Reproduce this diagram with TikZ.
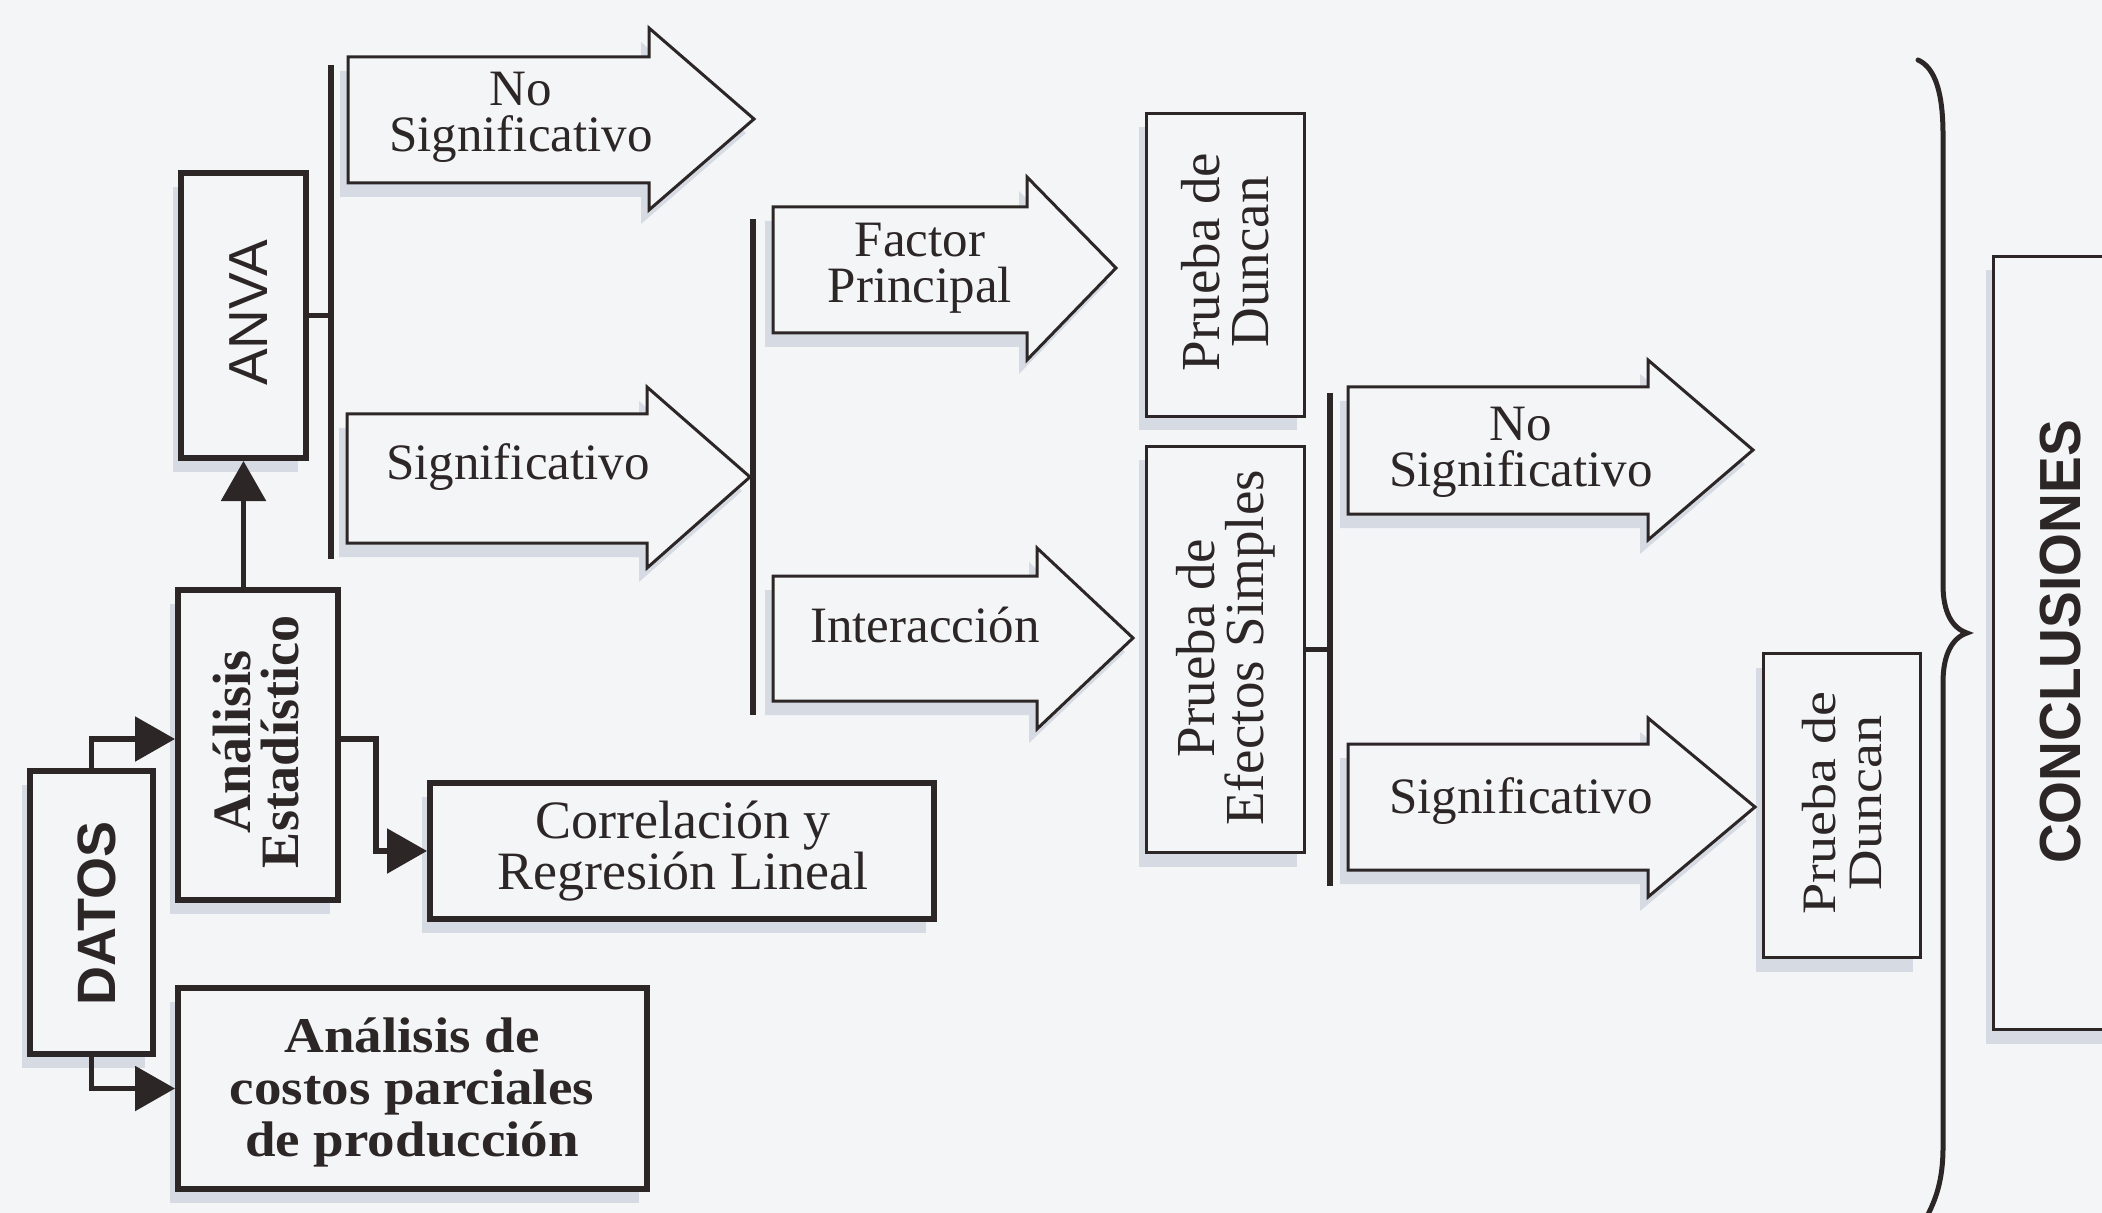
\documentclass[tikz,border=0pt]{standalone}
\usepackage{fontspec}
\setmainfont{Liberation Serif}
\setsansfont{Liberation Sans}
\newfontfamily\stretchserif[FakeStretch=1.17]{Liberation Serif}
\newfontfamily\costfont[FakeStretch=1.1]{Liberation Serif}
\newfontfamily\conclfont[FakeStretch=0.95]{Liberation Sans}
\usetikzlibrary{arrows.meta,shadows}
\definecolor{ink}{RGB}{45,38,38}
\definecolor{paper}{RGB}{243,245,247}
\definecolor{shade}{RGB}{214,219,227}
\tikzset{
  shd/.style={drop shadow={shadow xshift=-4pt,shadow yshift=-7pt,fill=shade,opacity=1}},
  thickbox/.style={rectangle,draw=ink,line width=3pt,fill=paper,shd,inner sep=0pt},
  thinbox/.style={rectangle,draw=ink,line width=1.5pt,fill=paper,shd,inner sep=0pt},
  blockarrow/.style={draw=ink,line width=1.5pt,fill=paper,shd,line join=miter},
  vbar/.style={draw=ink,line width=3.3pt},
  conn/.style={draw=ink,line width=2.8pt},
  headtip/.style={-{Triangle[length=20pt,width=22pt]}},
  arrtxt/.style={align=center,inner sep=0pt,text=ink,font=\fontsize{25.5}{23}\selectfont},
  vtxt/.style={rotate=90,align=center,inner sep=0pt,text=ink},
  htxt/.style={align=center,inner sep=0pt,text=ink}
}
\begin{document}
\begin{tikzpicture}[x=0.5pt,y=-0.5pt]
\useasboundingbox (0,0) rectangle (2102,1213);
\fill[paper] (0,0) rectangle (2102,1213);
\clip (0,0) rectangle (2102,1213);

% ---------- boxes ----------
\node[thickbox,minimum width=62.5pt,minimum height=142.5pt] (anva) at (243.5,315.5) {};
\node[vtxt,font=\sffamily\fontsize{27.5}{27}\selectfont] (anvat) at (249,313) {ANVA};

\node[thickbox,minimum width=80pt,minimum height=155pt] (ae) at (258,745) {};
\node[vtxt,font=\bfseries\fontsize{27}{24}\selectfont] (aet) at (256,742) {Análisis\\Estadístico};

\node[thickbox,minimum width=61.5pt,minimum height=141.5pt] (datos) at (91.5,912.5) {};
\node[vtxt,font=\sffamily\bfseries\fontsize{27}{27}\selectfont] (datost) at (97,913) {DATOS};

\node[thickbox,minimum width=252pt,minimum height=68pt] (cr) at (682,851) {};
\node[htxt,font=\fontsize{27}{24.25}\selectfont] (crt) at (683,851) {Correlación y\\Regresión Lineal};

\node[thickbox,minimum width=234.5pt,minimum height=100.5pt] (co) at (412.5,1088.5) {};
\node[htxt,font=\costfont\bfseries\fontsize{25}{26}\selectfont] (cot) at (412,1092) {Análisis de\\costos parciales\\de producción};

\node[thinbox,minimum width=79pt,minimum height=151.5pt] (dun1) at (1225.5,265) {};
\node[vtxt,font=\fontsize{27.5}{24.5}\selectfont] (dun1t) at (1225.5,262) {Prueba de\\Duncan};

\node[thinbox,minimum width=79pt,minimum height=203pt] (pes) at (1225.5,649.5) {};
\node[vtxt,font=\fontsize{27.5}{24.5}\selectfont] (pest) at (1225.5,648) {Prueba de\\Efectos Simples};

\node[thinbox,minimum width=78.5pt,minimum height=152pt] (dun2) at (1842,805.5) {};
\node[vtxt,font=\stretchserif\fontsize{24}{23}\selectfont] (dun2t) at (1842,803) {Prueba de\\Duncan};

\node[thinbox,minimum width=67.5pt,minimum height=386.5pt] (concl) at (2061,643) {};
\node[vtxt,font=\conclfont\bfseries\fontsize{29}{29}\selectfont] (conclt) at (2061,642) {CONCLUSIONES};

% ---------- block arrows ----------
\path[blockarrow] (348,57) -- (649,57) -- (649,28) -- (754,119) -- (649,210) -- (649,183) -- (348,183) -- cycle;
\node[arrtxt] (a1) at (521,117) {No\\Significativo};

\path[blockarrow] (347,414) -- (647,414) -- (647,387) -- (750,477) -- (647,568) -- (647,543) -- (347,543) -- cycle;
\node[arrtxt,anchor=base] (a2) at (518,480) {Significativo};

\path[blockarrow] (773,207) -- (1027,207) -- (1027,177) -- (1116,268) -- (1027,360) -- (1027,333) -- (773,333) -- cycle;
\node[arrtxt] (a3) at (920,268) {Factor\\Principal};

\path[blockarrow] (773,576) -- (1037,576) -- (1037,548) -- (1133,638) -- (1037,729) -- (1037,701) -- (773,701) -- cycle;
\node[arrtxt,anchor=base] (a4) at (925,642) {Interacción};

\path[blockarrow] (1348,387) -- (1648,387) -- (1648,360) -- (1753,450) -- (1648,540) -- (1648,514) -- (1348,514) -- cycle;
\node[arrtxt] (a5) at (1521,452) {No\\Significativo};

\path[blockarrow] (1348,744) -- (1648,744) -- (1648,718) -- (1755,807) -- (1648,897) -- (1648,870) -- (1348,870) -- cycle;
\node[arrtxt,anchor=base] (a6) at (1521,813) {Significativo};

% ---------- bars and connectors ----------
\coordinate (v1t) at (331,65);   \coordinate (v1b) at (331,559);
\coordinate (v2t) at (753,219);  \coordinate (v2b) at (753,715);
\coordinate (v3t) at (1330,393); \coordinate (v3b) at (1330,886);
\draw[vbar] (v1t) -- (v1b);
\draw[vbar] (v2t) -- (v2b);
\draw[vbar] (v3t) -- (v3b);
\draw[conn] (anva.east) -- (anva.east -| v1t);
\draw[conn] (pes.east) -- (pes.east -| v3t);

\draw[conn,headtip] (anva.south |- ae.north) -- (anva.south);
\draw[conn,headtip] (datos.north) |- ([yshift=3pt]ae.west);
\draw[conn,headtip] (datos.south) |- (co.west);
\draw[conn,headtip] ([yshift=3pt]ae.east) -- ++(35,0) |- (cr.west);

% ---------- brace ----------
\draw[ink,line width=2.5pt,line cap=round]
  (1918,60) .. controls (1936,68) and (1943,95) .. (1943,135)
  -- (1943,585) .. controls (1943,612) and (1952,628) .. (1967,633)
  .. controls (1952,638) and (1943,655) .. (1943,682)
  -- (1943,1147) .. controls (1943,1180) and (1936,1200) .. (1925,1220);
\end{tikzpicture}
\end{document}
